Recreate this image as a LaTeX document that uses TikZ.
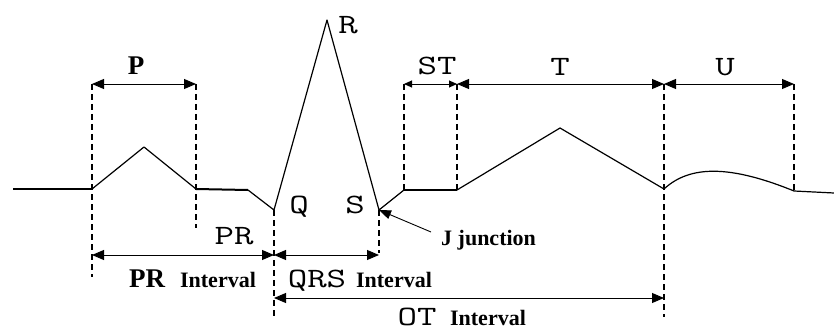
\documentclass[tikz,border=0pt]{standalone}
\usepackage{fontspec}
\setmainfont{Liberation Serif}
\usetikzlibrary{arrows.meta}
\newcommand\widelbl[1]{\scalebox{1.35}[1]{#1}}
\tikzset{
  wave/.style={line width=1.2pt, line join=round},
  flat/.style={line width=2pt},
  guide/.style={line width=1.1pt, dash pattern=on 6pt off 4pt},
  guidethick/.style={line width=2.4pt, dash pattern=on 6pt off 4pt},
  dim/.style={line width=0.9pt, {Triangle[length=12pt,width=10pt]}-{Triangle[length=12pt,width=10pt]}},
  dimsmall/.style={line width=0.9pt, {Triangle[length=8pt,width=7pt]}-{Triangle[length=8pt,width=7pt]}},
  lbl/.style={inner sep=0pt, anchor=base, font=\ttfamily\fontsize{28}{28}\selectfont},
  lblb/.style={inner sep=0pt, anchor=base, font=\bfseries\fontsize{27}{27}\selectfont},
  intv/.style={inner sep=0pt, anchor=base, font=\bfseries\fontsize{22}{22}\selectfont},
}
\begin{document}
\begin{tikzpicture}[x=1pt,y=-1pt]
\useasboundingbox (0,0) rectangle (834,331);
% waveform points
\coordinate (b0) at (13,189);
\coordinate (p0) at (92,189);
\coordinate (pk) at (144,147);
\coordinate (p1) at (196,189);
\coordinate (pr) at (248,190);
\coordinate (q) at (274,210);
\coordinate (r) at (327,20);
\coordinate (s) at (379,210);
\coordinate (st0) at (404,190);
\coordinate (st1) at (457,190);
\coordinate (tk) at (560,128);
\coordinate (t1) at (664,189);
\coordinate (u1) at (794,191);
\coordinate (e) at (834,193);
% waveform
\draw[flat] (b0) -- (p0);
\draw[wave] (p0) -- (pk) -- (p1);
\draw[flat] (p1) -- (pr);
\draw[wave] (pr) -- (q) -- (r) -- (s) -- (st0);
\draw[flat] (st0) -- (st1);
\draw[wave] (st1) -- (tk) -- (t1);
\draw[wave] (t1) .. controls (690,165) and (730,165) .. (u1);
\draw[wave] (u1) -- (e);
% guide line ends
\coordinate (g1a) at (92,84);  \coordinate (g1b) at (92,277);
\coordinate (g2a) at (196,84); \coordinate (g2b) at (196,228);
\coordinate (g3b) at (274,318);
\coordinate (g4b) at (379,253);
\coordinate (g5a) at (404,84);
\coordinate (g6a) at (457,84);
\coordinate (g7a) at (664,84); \coordinate (g7b) at (664,317);
\coordinate (g8a) at (794,84);
% dashed guides
\draw[guide] (g1a) -- (g1b);
\draw[guide] (g2a) -- (g2b);
\draw[guide] (q) -- (g3b);
\draw[guide] (s) -- (g4b);
\draw[guidethick] (g5a) -- (st0);
\draw[guide] (g6a) -- (st1);
\draw[guidethick] (g7a) -- (g7b);
\draw[guide] (g8a) -- (u1);
% dimension arrows
\coordinate (a1) at (92,255);  \coordinate (a2) at (274,255);
\coordinate (a3) at (379,255);
\coordinate (a4) at (274,298); \coordinate (a5) at (664,298);
\draw[dim] (g1a) -- (g2a);
\draw[dimsmall] (g5a) -- (g6a);
\draw[dim] (g6a) -- (g7a);
\draw[dim] (g7a) -- (g8a);
\draw[dim] (a1) -- (a2);
\draw[dim] (a2) -- (a3);
\draw[dim] (a4) -- (a5);
% J junction pointer
\coordinate (jt) at (431,232);
\draw[line width=0.9pt, -{Triangle[length=12pt,width=9pt]}] (jt) -- (s);
% labels
\node[lblb] (lP) at (136,75) {P};
\node[lbl] (lST) at (437,75) {\widelbl{ST}};
\node[lbl] (lT) at (560,76) {\widelbl{T}};
\node[lbl] (lU) at (725,76) {\widelbl{U}};
\node[lbl] (lR) at (348,34) {\widelbl{R}};
\node[lbl] (lQ) at (299,213) {\widelbl{Q}};
\node[lbl] (lS) at (355,213) {\widelbl{S}};
\node[lbl] (lPR) at (234,244) {\widelbl{PR}};
\node[lblb] (lPRi) at (147,287) {PR};
\node[intv] (lPRi2) at (218,287) {Interval};
\node[lbl] (lQRS) at (317,287) {\widelbl{QRS}};
\node[intv] (lQRS2) at (394,287) {Interval};
\node[lbl] (lOT) at (417,325) {\widelbl{OT}};
\node[intv] (lOT2) at (488,325) {Interval};
\node[intv, anchor=base west] (lJ) at (441,245) {J junction};
\end{tikzpicture}
\end{document}
